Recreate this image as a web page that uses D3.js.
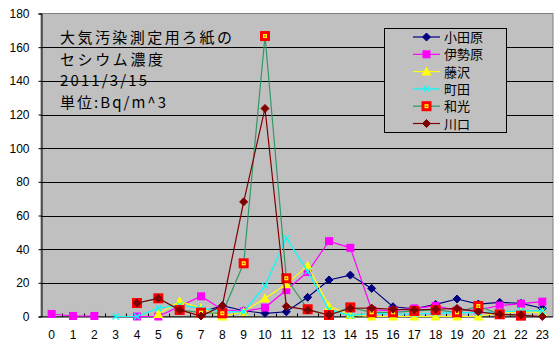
<!DOCTYPE html>
<html>
<head>
<meta charset="utf-8">
<script src="https://cdn.jsdelivr.net/npm/d3@7"></script>
<style>
  html, body { margin: 0; padding: 0; background: #fff; }
  svg { display: block; }
</style>
</head>
<body>
<svg id="chart" width="560" height="350"></svg>
<script>
// Hourly cesium concentration on air-monitoring filter paper, 2011/3/15
const hours = d3.range(0, 24).map(String);
const yTicks = [0, 20, 40, 60, 80, 100, 120, 140, 160, 180];
const titleLines = ["大気汚染測定用ろ紙の", "セシウム濃度", "2011/3/15", "単位:Bq/m^3"];
const titleWidths = [172, 103, 87, 106];

const seriesNames = ["小田原", "伊勢原", "藤沢", "町田", "和光", "川口"];

const odawara   = [null, null, null, null, null, null, null, 2.5, 6.4, 3.4, 1.9, 2.8, 11.4, 21.7, 24.6, 16.7, 5.8, 4.5, 7.2, 10.4, 7.4, 8.4, 7.8, 4.9];
const isehara   = [1.5, 0.3, 0.3, null, 0, 0, 6, 12, 4, 3, 5.3, 15.7, 26.4, 44.8, 40.8, 3.9, 3.5, 4.8, 6.3, 3.5, 4, 6.5, 7.6, 8.8];
const fujisawa  = [null, null, null, null, null, 1.5, 9, 5, 0, 2.8, 10.9, 19.1, 30.2, 6.2, 0.9, 0, 0, 0, 0, 0, 0, 2.3, 2.8, 2.5];
const machida   = [null, null, null, 0, 0, 4.9, 6.8, 5, 2.8, 2.8, 18.2, 46.6, 26.8, 3.9, 0.5, 1.9, 1.5, 1.5, 1.9, 2.3, 2.3, 2.8, 3.4, 3.4];
const wako      = [null, null, null, null, 8, 10.8, 3.9, 2.3, 1.9, 31.6, 166.6, 22.7, 4.3, 0.9, 5.4, 2.5, 2.5, 3.3, 3.9, 2.5, 6.2, 1.3, 0.5, null];
const kawaguchi = [null, null, null, null, 8, 10.8, 3.9, 0.3, 6.4, 68.1, 123.6, 6, 3.9, 0.9, 4.9, 5, 4.3, 3.9, 4.3, 4.8, 2.8, 1.3, 0.9, 0];

const seriesValues = [odawara, isehara, fujisawa, machida, wako, kawaguchi];
const lineColors   = ["#000080", "#FF00FF", "#FFFF00", "#00FFFF", "#339966", "#800000"];
const markerKinds  = ["diamond", "square", "triangle", "cross", "redsquare", "diamond"];

const svg = d3.select("#chart");
const plot = { left: 41, right: 553, top: 13.5, bottom: 316.5 };

const x = d3.scaleBand().domain(hours).range([plot.left, plot.right]).padding(0);
const y = d3.scaleLinear().domain([0, 180]).range([plot.bottom, plot.top]);
const cx = h => x(h) + x.bandwidth() / 2;

// Plot area
svg.append("rect")
  .attr("x", plot.left).attr("y", plot.top)
  .attr("width", plot.right - plot.left).attr("height", plot.bottom - plot.top)
  .attr("fill", "#C0C0C0").attr("stroke", "#808080").attr("stroke-width", 1);

// Horizontal gridlines
svg.append("g").selectAll("line")
  .data(yTicks.filter(v => v > 0 && v < 180))
  .join("line")
  .attr("x1", plot.left).attr("x2", plot.right)
  .attr("y1", d => Math.round(y(d)) + 0.5).attr("y2", d => Math.round(y(d)) + 0.5)
  .attr("stroke", "#000").attr("stroke-width", 1);

// Y axis
const yAxis = d3.axisLeft(y).tickValues(yTicks).tickSize(3).tickPadding(9).tickFormat(d3.format("d"));
const gy = svg.append("g").attr("transform", `translate(${plot.left + 0.5},0)`).call(yAxis);
gy.select(".domain").attr("stroke", "#000");
gy.selectAll(".tick line").attr("stroke", "#000");
gy.selectAll(".tick text").attr("font-family", "'Liberation Sans', Arial, sans-serif").attr("font-size", 12).attr("fill", "#000");

// X axis: labels centred on each hour, ticks at hour boundaries pointing inward
const xAxis = d3.axisBottom(x).tickSize(0).tickPadding(13);
const gx = svg.append("g").attr("transform", `translate(0,${plot.bottom + 0.5})`).call(xAxis);
gx.select(".domain").remove();
gx.selectAll(".tick text").attr("font-family", "'Liberation Sans', Arial, sans-serif").attr("font-size", 12).attr("fill", "#000");

svg.append("line")
  .attr("x1", plot.left).attr("x2", plot.right)
  .attr("y1", plot.bottom + 0.5).attr("y2", plot.bottom + 0.5)
  .attr("stroke", "#000");
svg.append("g").selectAll("line")
  .data(hours.slice(1))
  .join("line")
  .attr("x1", d => Math.round(x(d)) + 0.5).attr("x2", d => Math.round(x(d)) + 0.5)
  .attr("y1", plot.bottom - 3).attr("y2", plot.bottom + 0.5)
  .attr("stroke", "#000");

// Marker drawing
function drawMarker(g, kind, color) {
  if (kind === "diamond") {
    g.append("path").attr("d", "M0,-4L4,0L0,4L-4,0Z").attr("fill", color).attr("stroke", color);
  } else if (kind === "square") {
    g.append("rect").attr("x", -4).attr("y", -4).attr("width", 8).attr("height", 8).attr("fill", color);
  } else if (kind === "triangle") {
    g.append("path").attr("d", "M0,-5L5,4L-5,4Z").attr("fill", color);
  } else if (kind === "cross") {
    g.append("path").attr("d", "M-3,-3L3,3M3,-3L-3,3").attr("stroke", color).attr("stroke-width", 1.2).attr("fill", "none");
  } else if (kind === "redsquare") {
    g.append("rect").attr("x", -5).attr("y", -5).attr("width", 10).attr("height", 10).attr("fill", "#FF0000");
    g.append("rect").attr("x", -2).attr("y", -2).attr("width", 4).attr("height", 4).attr("fill", "#FFFF00");
    g.append("rect").attr("x", -1).attr("y", -0.5).attr("width", 2).attr("height", 1).attr("fill", "#FF0000");
  }
}

const line = d3.line()
  .defined(d => d.v !== null)
  .x(d => cx(d.h))
  .y(d => y(d.v));

seriesValues.forEach((vals, i) => {
  const pts = vals.map((v, j) => ({ h: hours[j], v }));
  const g = svg.append("g").attr("class", "series");
  g.append("path")
    .datum(pts)
    .attr("d", line)
    .attr("fill", "none")
    .attr("stroke", lineColors[i])
    .attr("stroke-width", 1.2);
  g.selectAll("g.pt")
    .data(pts.filter(d => d.v !== null))
    .join("g")
    .attr("class", "pt")
    .attr("transform", d => `translate(${cx(d.h)},${y(d.v)})`)
    .each(function () { drawMarker(d3.select(this), markerKinds[i], lineColors[i]); });
});

// Title block inside the plot
svg.append("g").selectAll("text")
  .data(titleLines)
  .join("text")
  .attr("x", 60)
  .attr("y", (d, i) => 43 + i * 21.7)
  .attr("font-family", "'Noto Sans CJK JP', sans-serif")
  .attr("font-size", 15)
  .attr("textLength", (d, i) => titleWidths[i])
  .attr("lengthAdjust", "spacing")
  .attr("fill", "#000")
  .text(d => d);

// Legend
const lg = svg.append("g");
lg.append("rect")
  .attr("x", 384.5).attr("y", 28.5).attr("width", 122).attr("height", 104)
  .attr("fill", "#C0C0C0").attr("stroke", "#000");
seriesNames.forEach((name, i) => {
  const ry = 37 + i * 17.3;
  const row = lg.append("g");
  row.append("line").attr("x1", 413).attr("x2", 440).attr("y1", ry).attr("y2", ry)
    .attr("stroke", lineColors[i]).attr("stroke-width", 1.2);
  const m = row.append("g").attr("transform", `translate(426.5,${ry})`);
  drawMarker(m, markerKinds[i], lineColors[i]);
  row.append("text").attr("x", 444).attr("y", ry + 5)
    .attr("font-family", "'Noto Sans CJK JP', sans-serif")
    .attr("font-size", 13).attr("fill", "#000").text(name);
});
</script>
</body>
</html>
